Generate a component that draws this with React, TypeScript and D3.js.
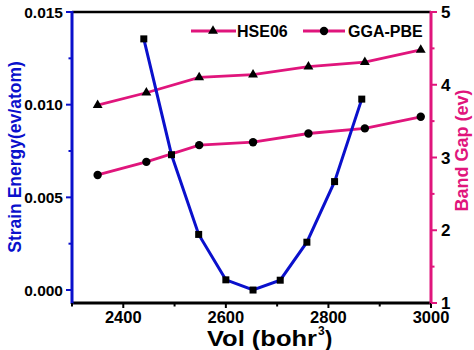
import React from 'react';
import * as d3 from 'd3';

// strain energy vs volume
const strainVol = [2440, 2494, 2547, 2600, 2653, 2706, 2758, 2812, 2865];
const strainEnergy = [0.01355, 0.0073, 0.0030, 0.00055, 0.0, 0.00053, 0.00258, 0.00585, 0.0103];

// band gaps
const gapVol = [2350, 2445, 2548, 2653, 2761, 2871, 2980];
const hse06 = [3.72, 3.89, 4.1, 4.14, 4.25, 4.31, 4.48];
const ggaPbe = [2.76, 2.94, 3.17, 3.21, 3.33, 3.4, 3.56];

const xTicks = [2400, 2600, 2800, 3000];
const xMinor = [2300, 2500, 2700, 2900];
const leftTicks = [0, 0.005, 0.01, 0.015];
const leftMinor = [0.0025, 0.0075, 0.0125];
const rightTicks = [1, 2, 3, 4, 5];
const rightMinor = [1.5, 2.5, 3.5, 4.5];

const BLUE = '#0a10cc';
const PINK = '#e0157c';
const FONT = '"Liberation Sans", Arial, sans-serif';

const W = 474;
const H = 350;
const m = { left: 72, right: 43, top: 12, bottom: 47 };

export default function App() {
  const x = d3.scaleLinear().domain([2300, 3000]).range([m.left, W - m.right]);
  const yL = d3.scaleLinear().domain([-0.0007, 0.015]).range([H - m.bottom, m.top]);
  const yR = d3.scaleLinear().domain([1, 5]).range([H - m.bottom, m.top]);

  const x0 = m.left, x1 = W - m.right, y0 = H - m.bottom, y1 = m.top;

  const strainLine = d3.line<number>().x((_, i) => x(strainVol[i])).y(d => yL(d));
  const gapLine = d3.line<number>().x((_, i) => x(gapVol[i])).y(d => yR(d));

  const tri = d3.symbol().type(d3.symbolTriangle).size(42)();

  return (
    <svg width={W} height={H} style={{ position: 'absolute', left: 0, top: 0, background: '#fff' }}
      fontFamily={FONT} fontWeight="bold">
      {/* band gap series */}
      <path d={gapLine(hse06) || ''} fill="none" stroke={PINK} strokeWidth={2.8} />
      <path d={gapLine(ggaPbe) || ''} fill="none" stroke={PINK} strokeWidth={2.8} />
      {hse06.map((v, i) => (
        <path key={'h' + i} d={tri || ''} transform={`translate(${x(gapVol[i])},${yR(v)})`} fill="#000" />
      ))}
      {ggaPbe.map((v, i) => (
        <circle key={'g' + i} cx={x(gapVol[i])} cy={yR(v)} r={4.2} fill="#000" />
      ))}

      {/* strain energy */}
      <path d={strainLine(strainEnergy) || ''} fill="none" stroke={BLUE} strokeWidth={3} />
      {strainEnergy.map((v, i) => (
        <rect key={'s' + i} x={x(strainVol[i]) - 3.5} y={yL(v) - 3.5} width={7} height={7} fill="#000" />
      ))}

      {/* frame */}
      <line x1={x0} x2={x1} y1={y1} y2={y1} stroke="#000" strokeWidth={2.5} />
      <line x1={x0} x2={x1} y1={y0} y2={y0} stroke="#000" strokeWidth={3} />
      <line x1={x0} x2={x0} y1={y1 - 1} y2={y0 + 1} stroke={BLUE} strokeWidth={3} />
      <line x1={x1} x2={x1} y1={y1 - 1} y2={y0 + 1} stroke={PINK} strokeWidth={3} />

      {/* bottom axis */}
      {xTicks.map(t => (
        <g key={'xt' + t}>
          <line x1={x(t)} x2={x(t)} y1={y0} y2={y0 + 5} stroke="#000" strokeWidth={2} />
          <text x={x(t)} y={y0 + 20} textAnchor="middle" fontSize={16.5} fill="#000">{t}</text>
        </g>
      ))}
      {xMinor.map(t => (
        <line key={'xm' + t} x1={x(t)} x2={x(t)} y1={y0} y2={y0 + 3.5} stroke="#000" strokeWidth={2} />
      ))}
      <text x={207} y={H - 4} textAnchor="start" fontSize={22} fill="#000"
        textLength={110} lengthAdjust="spacingAndGlyphs">Vol (bohr</text>
      <text x={318} y={H - 15} textAnchor="start" fontSize={12} fill="#000">3</text>
      <text x={325} y={H - 4} textAnchor="start" fontSize={22} fill="#000">)</text>

      {/* left axis */}
      {leftTicks.map(t => (
        <g key={'lt' + t}>
          <line x1={x0 - 6} x2={x0} y1={yL(t)} y2={yL(t)} stroke={BLUE} strokeWidth={2} />
          <text x={x0 - 9} y={yL(t) + 5.5} textAnchor="end" fontSize={15.5} fill="#000">{t.toFixed(3)}</text>
        </g>
      ))}
      {leftMinor.map(t => (
        <line key={'lm' + t} x1={x0 - 3.5} x2={x0} y1={yL(t)} y2={yL(t)} stroke={BLUE} strokeWidth={2} />
      ))}
      <text transform={`translate(21,${(60 + 254) / 2}) rotate(-90)`} textAnchor="middle" fontSize={17.5} fill={BLUE}>
        Strain Energy(ev/atom)
      </text>

      {/* right axis */}
      {rightTicks.map(t => (
        <g key={'rt' + t}>
          <line x1={x1} x2={x1 + 6} y1={yR(t)} y2={yR(t)} stroke={PINK} strokeWidth={2} />
          <text x={x1 + 10} y={yR(t) + 6} textAnchor="start" fontSize={17} fill="#000">{t}</text>
        </g>
      ))}
      {rightMinor.map(t => (
        <line key={'rm' + t} x1={x1} x2={x1 + 3.5} y1={yR(t)} y2={yR(t)} stroke={PINK} strokeWidth={2} />
      ))}
      <text transform={`translate(468,${(88 + 213) / 2}) rotate(-90)`} textAnchor="middle" fontSize={18} fill={PINK}>
        Band Gap (ev)
      </text>

      {/* legend */}
      <g>
        <line x1={191} x2={236} y1={31} y2={31} stroke={PINK} strokeWidth={2.8} />
        <path d={tri || ''} transform="translate(213,31)" fill="#000" />
        <text x={237} y={37} fontSize={16} fill="#000">HSE06</text>
        <line x1={303} x2={345} y1={31} y2={31} stroke={PINK} strokeWidth={2.8} />
        <circle cx={324} cy={31} r={4.2} fill="#000" />
        <text x={348} y={37} fontSize={16} fill="#000">GGA-PBE</text>
      </g>
    </svg>
  );
}
